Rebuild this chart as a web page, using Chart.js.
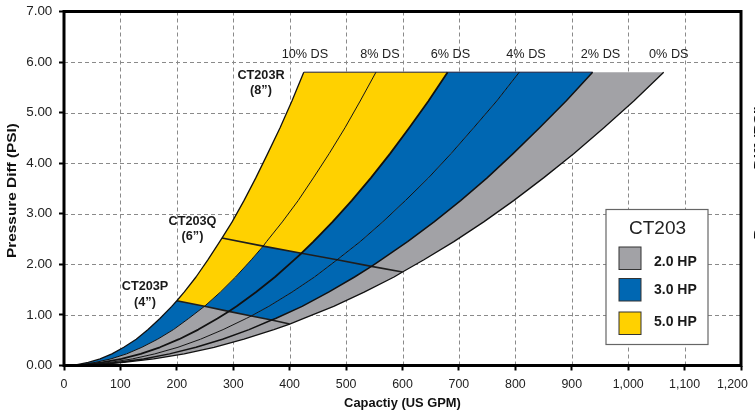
<!DOCTYPE html>
<html><head><meta charset="utf-8">
<script src="https://cdn.jsdelivr.net/npm/chart.js@4.4.1/dist/chart.umd.min.js"></script>
<style>html,body{margin:0;padding:0;background:#fff;overflow:hidden}#wrap{width:755px;height:415px;position:relative}</style>
</head><body><div id="wrap"><canvas id="c" width="755" height="415"></canvas></div>
<script>
// ---- data ----
const dsLabels = ['10% DS','8% DS','6% DS','4% DS','2% DS','0% DS'];
const psiLevels = [0, 0.01, 0.06, 0.13, 0.23, 0.36, 0.52, 0.71, 0.93, 1.17, 1.45, 1.75, 2.09, 2.45, 2.84, 3.26, 3.71, 4.19, 4.70, 5.23, 5.80];
const gpm10 = [0, 21, 43, 64, 85, 106, 128, 149, 170, 191, 213, 234, 255, 276, 298, 319, 340, 361, 383, 404, 425];
const gpm8  = [0, 28, 55, 83, 111, 138, 166, 194, 221, 249, 277, 304, 332, 359, 387, 415, 442, 470, 498, 525, 553];
const gpm6  = [0, 34, 68, 102, 136, 170, 204, 238, 272, 306, 340, 374, 408, 442, 476, 510, 544, 578, 612, 646, 680];
const gpm4  = [0, 40, 81, 121, 161, 202, 242, 282, 323, 363, 404, 444, 484, 525, 565, 605, 646, 686, 726, 767, 807];
const gpm2  = [0, 47, 94, 141, 187, 234, 281, 328, 375, 422, 469, 515, 562, 609, 656, 703, 750, 796, 843, 890, 937];
const gpm0  = [0, 53, 106, 159, 213, 266, 319, 372, 425, 478, 532, 585, 638, 691, 744, 797, 850, 904, 957, 1010, 1063];
// size boundary lines (crossing points on each DS curve)
const lineP_gpm = [200, 249, 292, 332, 368, 400];
const lineP_psi = [1.28, 1.17, 1.07, 0.98, 0.90, 0.82];
const lineQ_gpm = [280, 353, 421, 484, 545, 600];
const lineQ_psi = [2.52, 2.36, 2.22, 2.09, 1.96, 1.85];
const hpLabels = ['2.0 HP','3.0 HP','5.0 HP'];
const legendTitle = 'CT203';
const sizeLabels = [['CT203P','(4\u201D)'],['CT203Q','(6\u201D)'],['CT203R','(8\u201D)']];
// HP index of each band (band k lies between DS curve k and k+1) in each size zone
const bandsP = [1,0,0,0,0];
const bandsQ = [2,1,1,1,0];
const bandsR = [2,2,1,1,0];
const xTickValues = [0,100,200,300,400,500,600,700,800,900,1000,1100,1200];
const yTickValues = [0,1,2,3,4,5,6,7];
const xTitle = 'Capactiy (US GPM)';
const yTitle = 'Pressure Diff (PSI)';

// ---- styles ----
const hpColors = ['#a2a2a6','#0067b2','#ffd100'];
const curveWidths = [1.3, 1, 1.8, 1, 1.5, 1.3];
const FONT = "'Liberation Sans', Arial, sans-serif";

const curves = [gpm10,gpm8,gpm6,gpm4,gpm2,gpm0].map(g => g.map((x,i)=>({x, y:psiLevels[i]})));
const splits = curves.map((c,i)=>{
  const p = {x:lineP_gpm[i], y:lineP_psi[i]}, q = {x:lineQ_gpm[i], y:lineQ_psi[i]};
  return {
    P: c.filter(pt=>pt.y < p.y).concat([p]),
    Q: [p].concat(c.filter(pt=>pt.y > p.y && pt.y < q.y), [q]),
    R: [q].concat(c.filter(pt=>pt.y > q.y))
  };
});

const datasets = [];
splits.forEach((s,i)=>{
  datasets.push({data: s.P.concat(s.Q.slice(1), s.R.slice(1)), borderColor:'#111', borderWidth:curveWidths[i],
    pointRadius:0, tension:0, fill:false, order:0, borderJoinStyle:'round'});
});
datasets.push({data: lineP_gpm.map((x,i)=>({x, y:lineP_psi[i]})), borderColor:'#1e1e1e', borderWidth:1.6, pointRadius:0, tension:0, fill:false, order:0});
datasets.push({data: lineQ_gpm.map((x,i)=>({x, y:lineQ_psi[i]})), borderColor:'#1e1e1e', borderWidth:1.6, pointRadius:0, tension:0, fill:false, order:0});
datasets.push({data: [{x:gpm10[gpm10.length-1], y:psiLevels[psiLevels.length-1]},{x:gpm2[gpm2.length-1], y:psiLevels[psiLevels.length-1]}], borderColor:'#1b1b3a', borderWidth:1, pointRadius:0, tension:0, fill:false, order:0});
[['P',bandsP],['Q',bandsQ],['R',bandsR]].forEach(([zone,bands])=>{
  bands.forEach((hp,k)=>{
    const a = splits[k][zone], b = splits[k+1][zone].slice().reverse();
    datasets.push({data: a.concat(b), backgroundColor: hpColors[hp], borderColor:'rgba(0,0,0,0)', borderWidth:0.5,
      pointRadius:0, tension:0, fill:'shape', order:1});
  });
});

const dashedGrid = {
  id:'dashedGrid',
  beforeDatasetsDraw(chart){
    const ctx = chart.ctx, a = chart.chartArea, xs = chart.scales.x, ys = chart.scales.y;
    ctx.save();
    ctx.strokeStyle = '#8a8a8a'; ctx.lineWidth = 1; ctx.setLineDash([4,3]);
    xs.ticks.forEach(t=>{
      if (t.value <= xs.min || t.value >= xs.max) return;
      const x = Math.round(xs.getPixelForValue(t.value)) + 0.5;
      ctx.beginPath(); ctx.moveTo(x, a.top); ctx.lineTo(x, a.bottom); ctx.stroke();
    });
    ys.ticks.forEach(t=>{
      if (t.value <= ys.min || t.value >= ys.max) return;
      const y = Math.round(ys.getPixelForValue(t.value)) + 0.5;
      ctx.beginPath(); ctx.moveTo(a.left, y); ctx.lineTo(a.right, y); ctx.stroke();
    });
    ctx.restore();
  }
};

const overlay = {
  id:'overlay',
  afterDatasetsDraw(chart){
    const ctx = chart.ctx, a = chart.chartArea, xs = chart.scales.x, ys = chart.scales.y;
    ctx.save();
    ctx.strokeStyle = '#000'; ctx.lineWidth = 3; ctx.setLineDash([]);
    ctx.strokeRect(a.left, a.top, a.right-a.left, a.bottom-a.top);
    ctx.fillStyle = '#222'; ctx.textAlign='center'; ctx.textBaseline='middle';
    ctx.font = '12.7px ' + FONT;
    const dsX = [427, 560, 685, 819, 951, 1072];
    dsLabels.forEach((t,i)=> ctx.fillText(t, xs.getPixelForValue(dsX[i]), ys.getPixelForValue(6.15)));
    ctx.font = 'bold 12.7px ' + FONT; ctx.fillStyle = '#1a1a1a';
    const sizePos = [[143.6,1.564,1.248],[227.8,2.851,2.545],[349.2,5.743,5.43]];
    sizeLabels.forEach((l,i)=>{
      const p = sizePos[i];
      ctx.fillText(l[0], xs.getPixelForValue(p[0]), ys.getPixelForValue(p[1]));
      ctx.fillText(l[1], xs.getPixelForValue(p[0]), ys.getPixelForValue(p[2]));
    });
    ctx.font = 'bold 12.9px ' + FONT; ctx.fillStyle='#111';
    ctx.fillText(xTitle, (a.left+a.right)/2, 403.5);
    ctx.save();
    ctx.translate(12.5, 190.5); ctx.rotate(-Math.PI/2); ctx.scale(1.28,1);
    ctx.font = 'bold 12px ' + FONT; ctx.fillText(yTitle, 0, 0);
    ctx.restore();
    ctx.save();
    ctx.translate(762.5, 172); ctx.rotate(-Math.PI/2); ctx.scale(1.28,1);
    ctx.font = 'bold 12px ' + FONT; ctx.textBaseline='alphabetic'; ctx.fillText(yTitle, 0, 0);
    ctx.restore();
    ctx.fillStyle='#fff'; ctx.fillRect(606,209.5,102,135);
    ctx.strokeStyle='#666'; ctx.lineWidth=1.2; ctx.strokeRect(606,209.5,102,135);
    ctx.fillStyle='#222'; ctx.font = '19px ' + FONT; ctx.textAlign='center';
    ctx.fillText(legendTitle, 657.5, 229);
    const sy = [247, 278.5, 312];
    const ty = [262.5, 290, 322.5];
    hpLabels.forEach((t,i)=>{
      ctx.fillStyle = hpColors[i]; ctx.fillRect(619, sy[i], 22, 22.5);
      ctx.strokeStyle='#333'; ctx.lineWidth=1; ctx.strokeRect(619, sy[i], 22, 22.5);
      ctx.fillStyle='#1a1a1a'; ctx.font='bold 14px ' + FONT; ctx.textAlign='left';
      ctx.fillText(t, 654, ty[i]);
    });
    ctx.restore();
  }
};

const gridOpts = {drawOnChartArea:false, drawTicks:true, tickLength:5, tickColor:'#000', tickWidth:2, tickBorderDash:[]};

new Chart(document.getElementById('c'), {
  type:'line',
  data:{datasets},
  options:{
    responsive:false, animation:false, events:[],
    layout:{padding:{left:0,right:14,top:11.5,bottom:0}},
    plugins:{legend:{display:false}, tooltip:{enabled:false}},
    scales:{
      x:{type:'linear', min:0, max:1200,
        afterBuildTicks: s => { s.ticks = xTickValues.map(v=>({value:v})); },
        afterFit: s => { s.height = 49.5; s.paddingLeft = 0; s.paddingRight = 0; },
        ticks:{autoSkip:false, maxRotation:0, padding:7, color:'#222', font:{family:FONT, size:12.4},
          callback: v => v === 1200 ? v.toLocaleString('en-US') + '     ' : v.toLocaleString('en-US')},
        grid:gridOpts,
        border:{display:false}
      },
      y:{type:'linear', min:0, max:7,
        afterBuildTicks: s => { s.ticks = yTickValues.map(v=>({value:v})); },
        afterFit: s => { s.width = 64; s.paddingTop = 0; s.paddingBottom = 0; },
        ticks:{padding:6.7, color:'#222', font:{family:FONT, size:13.4}, callback: v => Number(v).toFixed(2)},
        grid:gridOpts,
        border:{display:false}
      }
    }
  },
  plugins:[dashedGrid, overlay]
});
</script></body></html>
